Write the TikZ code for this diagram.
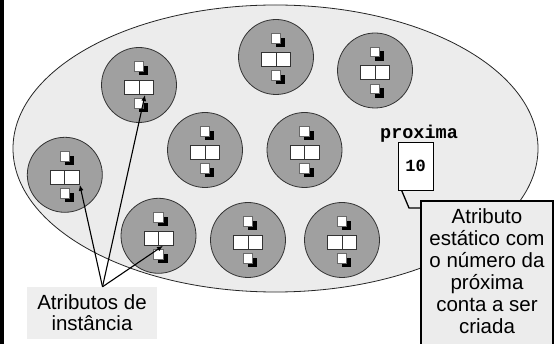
\documentclass[tikz,border=0pt]{standalone}
\usepackage{fontspec}
\setmainfont{Liberation Sans}
\newfontfamily\monob{Liberation Mono}
\usetikzlibrary{arrows.meta}
\definecolor{ellfill}{RGB}{236,236,236}
\definecolor{boxfill}{RGB}{238,238,238}
\definecolor{objfill}{RGB}{160,160,160}
\definecolor{objline}{RGB}{50,50,50}
\definecolor{sqline}{RGB}{105,105,105}
\tikzset{
  ell/.style={fill=ellfill, draw=black!85, line width=0.8pt},
  obj/.style={circle, minimum size=75pt, inner sep=0pt, fill=objfill, draw=objline, line width=0.8pt},
  wsq/.style={rectangle, minimum size=9.5pt, inner sep=0pt, fill=white, draw=sqline, line width=0.6pt},
  shsq/.style={rectangle, minimum size=9.5pt, inner sep=0pt, fill=black},
  cellpair/.style={rectangle, minimum width=29pt, minimum height=14pt, inner sep=0pt,
    fill=white, draw=objline, line width=1pt,
    path picture={\draw[objline, line width=1pt] (path picture bounding box.north) -- (path picture bounding box.south);}},
  comic/.style={font=\fontsize{20.5}{21}\selectfont, align=center},
  attrbox/.style={comic, fill=boxfill, minimum width=130pt, minimum height=52pt, inner sep=0pt},
  callbox/.style={fill=ellfill, draw=black, line width=2pt, minimum width=132pt, minimum height=178pt, inner sep=0pt},
  calltext/.style={font=\fontsize{20.5}{22}\selectfont, align=center, inner sep=0pt},
  valbox/.style={fill=white, draw=black, line width=0.8pt, minimum width=35pt, minimum height=48pt, inner sep=0pt, font=\monob\bfseries\fontsize{17}{17}\selectfont},
  varname/.style={font=\monob\bfseries\fontsize{18.5}{18.5}\selectfont, inner sep=0pt},
  arr/.style={-{Latex[length=6pt,width=5pt]}, line width=1.1pt},
  lead/.style={line width=1.3pt}
}
\newcommand\objnode[3]{%
  \node[obj] (#1) at (#2,#3) {};
  \begin{scope}[shift={(#2,#3)}]
    \node[shsq] at (4.5,-14.5) {};
    \node[wsq] (#1-t) at (0,-18.5) {};
    \node[cellpair] (#1-r) at (0,2.5) {};
    \node[shsq] at (4.5,22.5) {};
    \node[wsq] (#1-b) at (0,18.5) {};
  \end{scope}}
\begin{document}
\begin{tikzpicture}[x=1pt, y=-1pt]
  \useasboundingbox (0,0) rectangle (556,344);
  \fill[white] (0,0) rectangle (556,344);
  \fill[black] (0,0) rectangle (4,344);
  % class ellipse
  \draw[ell] (275.5,148.5) ellipse [x radius=262.5pt, y radius=143.5pt];
  % objects
  \objnode{c1}{276}{57}
  \objnode{c2}{375}{70.5}
  \objnode{c3}{139}{85}
  \objnode{c4}{205}{150}
  \objnode{c5}{304.5}{150}
  \objnode{c6}{64.8}{174.8}
  \objnode{c7}{158.5}{235.8}
  \objnode{c8}{248}{240}
  \objnode{c9}{342}{240}
  % static attribute
  \node[varname, anchor=base] (pname) at (419,138.5) {proxima};
  \node[valbox] (ten) at (415.5,166) {10};
  \node[callbox] (call) at (487,290) {};
  \node[calltext, anchor=north] (ctext) at (487,208) {Atributo\\estático com\\o número da\\próxima\\conta a ser\\criada};
  \coordinate (knee) at (409,208);
  \draw[lead] ([xshift=4pt]ten.south west) -- (knee) -- (knee -| call.west);
  % instance attributes
  \node[attrbox] (attr) at (92,313) {Atributos de\\instância};
  \coordinate (apex) at ([xshift=10.5pt]attr.north);
  \draw[arr] (apex) -- (c6-r.south east);
  \draw[arr] (apex) -- ([xshift=6pt]c3-r.south);
  \draw[arr] (apex) -- ([xshift=4.5pt]c7-r.south);
\end{tikzpicture}
\end{document}
